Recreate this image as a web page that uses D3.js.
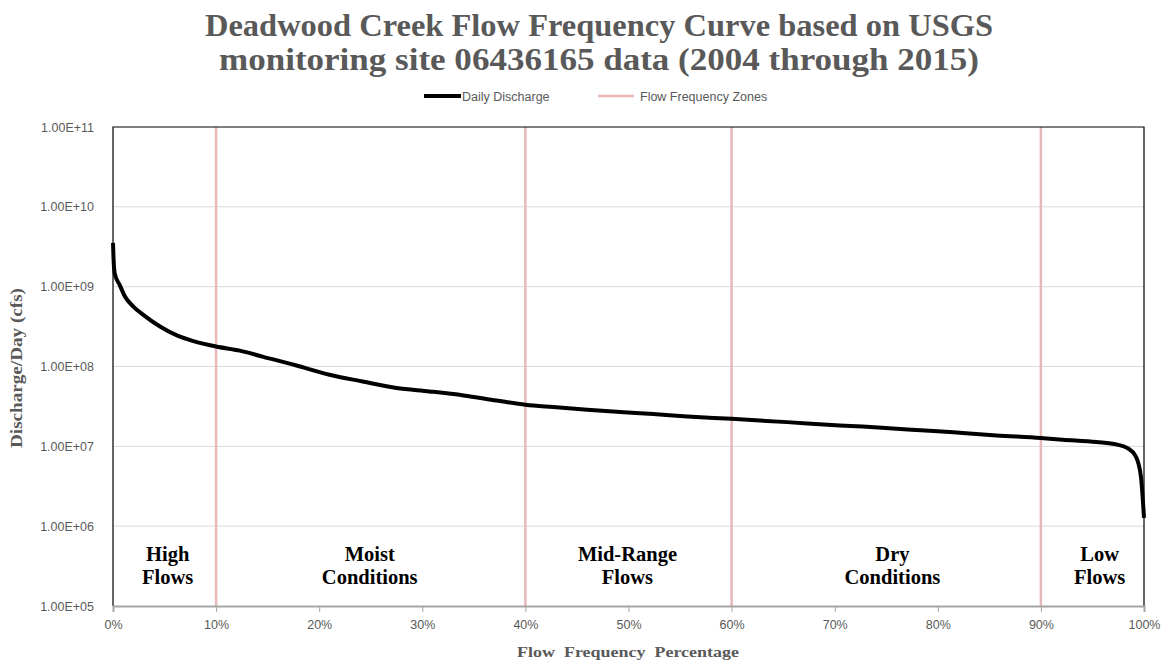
<!DOCTYPE html>
<html><head><meta charset="utf-8">
<script src="https://cdn.jsdelivr.net/npm/d3@7"></script>
<style>body{margin:0;background:#fff}svg{display:block}</style>
</head><body><svg id="c" width="1169" height="663"></svg>
<script>
const flowPct = [0, 0.05, 0.16, 0.68, 1.16, 1.97, 2.94, 4.56, 6.2, 7.8, 10, 12.3, 14.5, 17.8, 21, 24.2, 27.5, 30.7, 34, 37.2, 40, 42.7, 46, 49.2, 52.4, 55.7, 60, 65.4, 70.5, 72.7, 76, 79.2, 82.4, 85.7, 90, 92.1, 95.4, 97.4, 98.4, 99.2, 99.7, 100];
const discharge = [3.53e9, 2.29e9, 1.48e9, 1.03e9, 7.52e8, 5.64e8, 4.44e8, 3.17e8, 2.45e8, 2.08e8, 1.78e8, 1.58e8, 1.33e8, 1.03e8, 7.87e7, 6.49e7, 5.37e7, 4.87e7, 4.34e7, 3.75e7, 3.32e7, 3.10e7, 2.87e7, 2.69e7, 2.54e7, 2.37e7, 2.21e7, 2.01e7, 1.83e7, 1.77e7, 1.66e7, 1.57e7, 1.47e7, 1.37e7, 1.27e7, 1.21e7, 1.13e7, 1.05e7, 9.5e6, 7.5e6, 4.2e6, 1.27e6];
const zoneBounds = [10, 40, 60, 90];
const zoneNames = [["High", "Flows"], ["Moist", "Conditions"], ["Mid-Range", "Flows"], ["Dry", "Conditions"], ["Low", "Flows"]];
const zoneCenters = [5.3, 24.9, 49.9, 75.6, 95.7];
const xTicks = [0, 10, 20, 30, 40, 50, 60, 70, 80, 90, 100];
const yTicks = [1e5, 1e6, 1e7, 1e8, 1e9, 1e10, 1e11];
const titleLines = ["Deadwood Creek Flow Frequency Curve based on USGS", "monitoring site 06436165 data (2004 through 2015)"];
const legendLabels = ["Daily Discharge", "Flow Frequency Zones"];
const xTitle = "Flow\u00a0\u00a0Frequency\u00a0\u00a0Percentage";
const yTitle = "Discharge/Day (cfs)";

const L = 113, R = 1144, T = 127, B = 606;
const svg = d3.select("#c");
const x = d3.scaleLinear().domain([0, 100]).range([L, R]);
const y = d3.scaleLog().domain([1e5, 1e11]).range([B, T]);
const gray = "#595959";
const serif = "'Liberation Serif','Times New Roman',serif";
const sans = "'Liberation Sans',Arial,sans-serif";
const pink = "#e6b9b8";

// gridlines
svg.append("g").selectAll("line").data(yTicks.filter(d => d > 1e5 && d < 1e11)).join("line")
  .attr("x1", L).attr("x2", R).attr("y1", d => y(d)).attr("y2", d => y(d))
  .attr("stroke", "#d9d9d9").attr("stroke-width", 1);

// zone lines
svg.append("g").selectAll("line").data(zoneBounds).join("line")
  .attr("x1", d => x(d)).attr("x2", d => x(d)).attr("y1", T).attr("y2", B)
  .attr("stroke", pink).attr("stroke-width", 2.5);

// plot border (top, left, right)
svg.append("path").attr("d", `M${L},${B}V${T}H${R}V${B}`).attr("fill", "none")
  .attr("stroke", "#000").attr("stroke-width", 1.2);

// x axis
const xAxis = svg.append("g").attr("transform", `translate(0,${B})`)
  .call(d3.axisBottom(x).tickValues(xTicks).tickFormat(d => d + "%").tickSize(6).tickPadding(8));
xAxis.select(".domain").attr("stroke", "#a6a6a6").attr("stroke-width", 2);
xAxis.selectAll(".tick line").attr("stroke", "#a6a6a6");
xAxis.selectAll("text").attr("fill", gray).attr("font-family", sans).attr("font-size", 12.5);

// y axis labels
const yAxis = svg.append("g").attr("transform", `translate(${L},0)`)
  .call(d3.axisLeft(y).tickValues(yTicks).tickSize(0).tickPadding(19)
    .tickFormat(d => "1.00E+" + String(Math.round(Math.log10(d))).padStart(2, "0")));
yAxis.select(".domain").remove();
yAxis.selectAll("text").attr("fill", gray).attr("font-family", sans).attr("font-size", 12.5);

// curve
const pts = flowPct.map((p, i) => [p, discharge[i]]);
svg.append("path").datum(pts)
  .attr("d", d3.line().x(d => x(d[0])).y(d => y(d[1])).curve(d3.curveMonotoneX))
  .attr("fill", "none").attr("stroke", "#000").attr("stroke-width", 4).attr("stroke-linejoin", "round");

// zone labels
const zl = svg.append("g").attr("font-family", serif).attr("font-weight", "bold").attr("font-size", 20.5)
  .attr("text-anchor", "middle").attr("fill", "#000");
zoneNames.forEach((lines, i) => {
  lines.forEach((t, j) => {
    zl.append("text").attr("x", x(zoneCenters[i])).attr("y", 561 + j * 23).text(t);
  });
});

// title
const titleW = [788, 760];
svg.append("g").selectAll("text").data(titleLines).join("text")
  .attr("x", 599).attr("y", (d, i) => 36 + i * 34)
  .attr("text-anchor", "middle").attr("font-family", serif).attr("font-weight", "bold")
  .attr("font-size", 32).attr("fill", gray)
  .attr("textLength", (d, i) => titleW[i]).attr("lengthAdjust", "spacingAndGlyphs").text(d => d);

// legend
const lg = svg.append("g").attr("font-family", sans).attr("font-size", 12.5).attr("fill", gray);
lg.append("line").attr("x1", 424).attr("x2", 461).attr("y1", 96).attr("y2", 96).attr("stroke", "#000").attr("stroke-width", 4);
lg.append("text").attr("x", 462).attr("y", 100.5).text(legendLabels[0]);
lg.append("line").attr("x1", 598).attr("x2", 634).attr("y1", 96).attr("y2", 96).attr("stroke", pink).attr("stroke-width", 2.5);
lg.append("text").attr("x", 640).attr("y", 100.5).text(legendLabels[1]);

// axis titles
svg.append("text").attr("x", 628).attr("y", 657).attr("text-anchor", "middle")
  .attr("font-family", serif).attr("font-weight", "bold").attr("font-size", 15.5).attr("fill", gray)
  .attr("textLength", 222).attr("lengthAdjust", "spacingAndGlyphs").text(xTitle);
svg.append("text").attr("transform", "translate(22,368) rotate(-90)").attr("text-anchor", "middle")
  .attr("font-family", serif).attr("font-weight", "bold").attr("font-size", 16).attr("fill", gray)
  .attr("textLength", 160).attr("lengthAdjust", "spacingAndGlyphs").text(yTitle);
</script></body></html>
